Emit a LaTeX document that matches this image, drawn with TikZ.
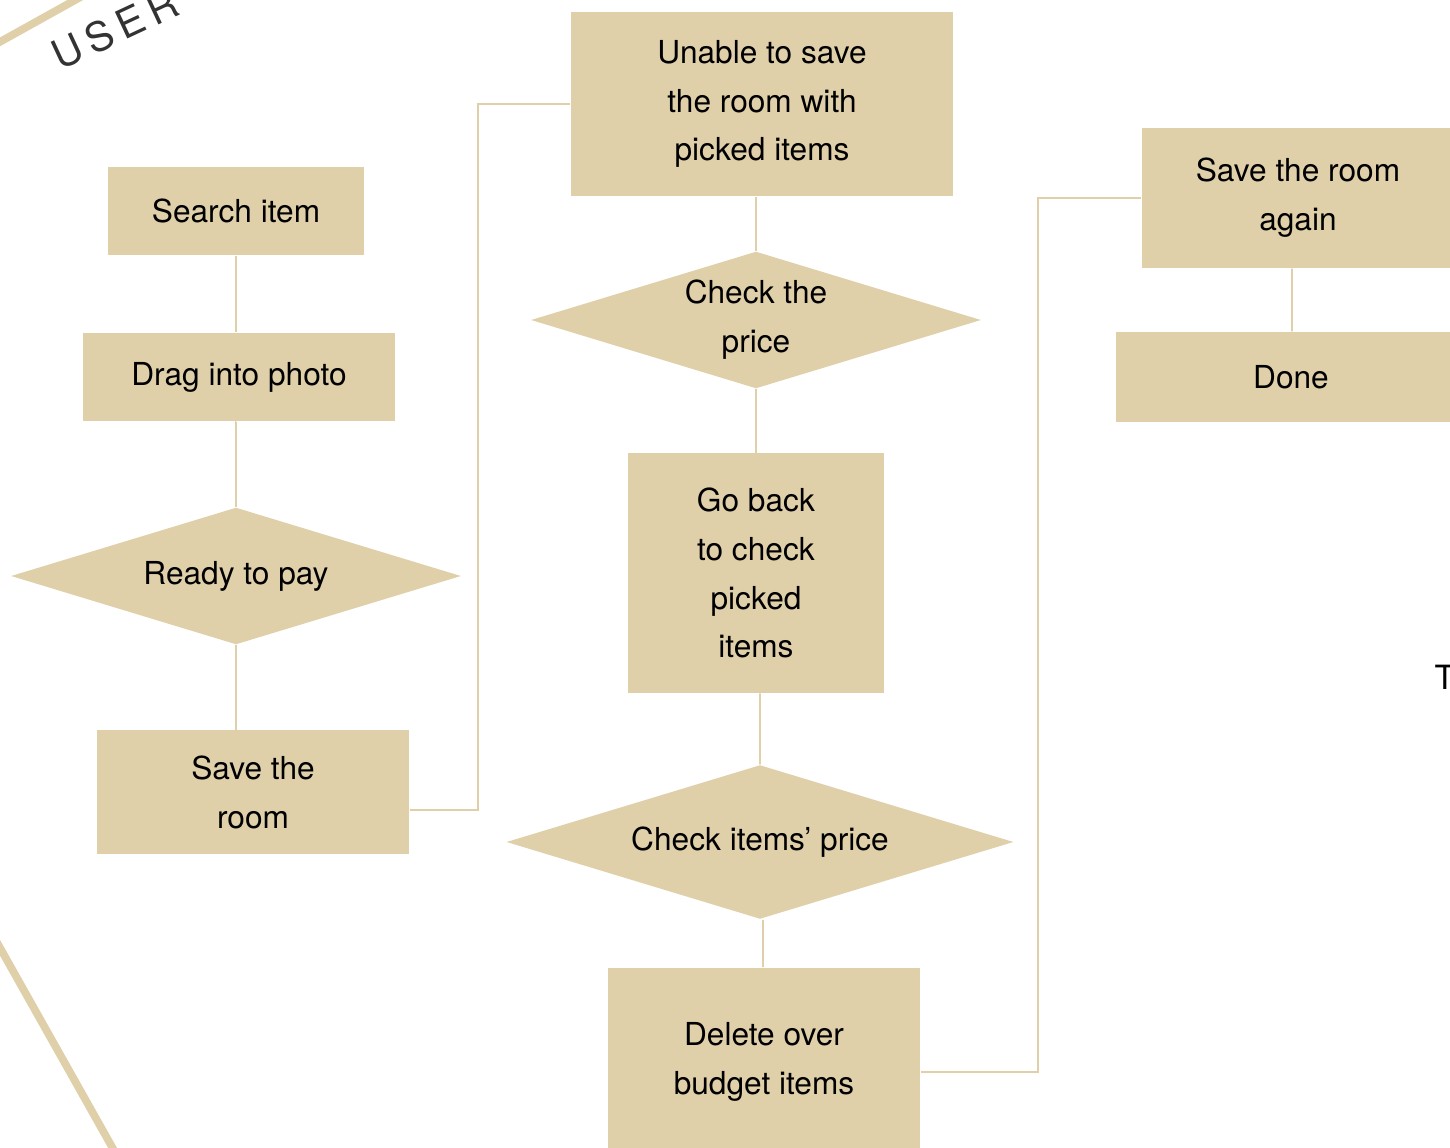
\documentclass[tikz,border=0pt]{standalone}
\usepackage{fontspec}
\setmainfont{TeX Gyre Heros}
\usepackage{xcolor}
\usepackage{tikz}
\usetikzlibrary{calc,positioning,shapes.geometric}

\begin{document}
\begin{tikzpicture}[
    x=0.01cm,y=-0.01cm,
    line cap=butt,
    %styles
    flow box/.style={rectangle,fill=flowtan,inner sep=0pt,align=center,
        font=\fontsize{9}{13.9}\selectfont},
    flow check/.style={diamond,aspect=3.3,fill=flowtan,inner sep=0pt,align=center,
        font=\fontsize{9}{13.9}\selectfont},
    flow link/.style={draw=flowtan,line width=0.45pt},
    edge band/.style={draw=flowtan,line width=2.2pt},
  ]
  %colors
  \definecolor{flowtan}{HTML}{E0D0AA}
  \definecolor{usergray}{HTML}{333333}
  \useasboundingbox (0,0) rectangle (1450,1148);

  % left column
  \node[flow box,minimum width=2.56cm,minimum height=0.88cm] (search) at (236,211) {Search item};
  \node[flow box,minimum width=3.12cm,minimum height=0.88cm] (drag) at (239,377) {Drag into photo};
  \node[flow check,minimum width=4.5cm,minimum height=1.37cm] (ready) at (236,576) {Ready to pay};
  \node[flow box,minimum width=3.12cm,minimum height=1.23cm] (saveroom) at (253,792) {Save the\\room};

  % middle column
  \node[flow box,minimum width=3.82cm,minimum height=1.84cm] (unable) at (762,104) {Unable to save\\the room with\\picked items};
  \node[flow check,minimum width=4.5cm,minimum height=1.37cm] (checkprice) at (756,320) {Check the\\price};
  \node[flow box,minimum width=2.56cm,minimum height=2.39cm] (goback) at (756,573) {Go back\\to check\\picked\\items};
  \node[flow check,minimum width=5.07cm,minimum height=1.54cm] (checkitems) at (760,842) {Check items’ price};
  \node[flow box,minimum width=3.12cm,minimum height=1.88cm] (delete) at (764,1062) {Delete over\\budget items};

  % right column
  \node[flow box,minimum width=3.12cm,minimum height=1.40cm] (saveagain) at (1298,198) {Save the room\\again};
  \node[flow box,minimum width=3.50cm,minimum height=0.90cm] (done) at (1291,377) {Done};

  % connectors
  \draw[flow link] (search) -- (search |- drag.north);
  \draw[flow link] (drag) -- (drag.south -| ready.north) -- (ready.north);
  \draw[flow link] (ready) -- (ready |- saveroom.north);
  \draw[flow link] ([yshift=-0.18cm]saveroom.east) -- ++(68,0) |- (unable.west);
  \draw[flow link] (unable.south -| checkprice.north) -- (checkprice.north);
  \draw[flow link] (checkprice) -- (checkprice |- goback.north);
  \draw[flow link] ([xshift=0.04cm]goback.south) -- (checkitems.north);
  \draw[flow link] ([xshift=0.03cm]checkitems.south) -- ([xshift=-0.01cm]delete.north);
  \draw[flow link] ([yshift=-0.1cm]delete.east) -- ++(117,0) |- (saveagain.west);
  \draw[flow link] ([xshift=-0.06cm]saveagain.south) -- ([xshift=0.01cm]done.north);

  % page decoration
  \draw[edge band] (-20,53) -- (95,-11);
  \draw[edge band] (-10,930) -- (125,1170);
  \node[anchor=base west,rotate=25,inner sep=0pt,text=usergray,
    font=\fontsize{11.5}{14}\selectfont\addfontfeatures{LetterSpace=18}] (usertag) at (60,71) {USER};
  \node[anchor=base west,inner sep=0pt,font=\fontsize{9.5}{14}\selectfont] (sidetag) at (1434,689) {T};
\end{tikzpicture}
\end{document}
